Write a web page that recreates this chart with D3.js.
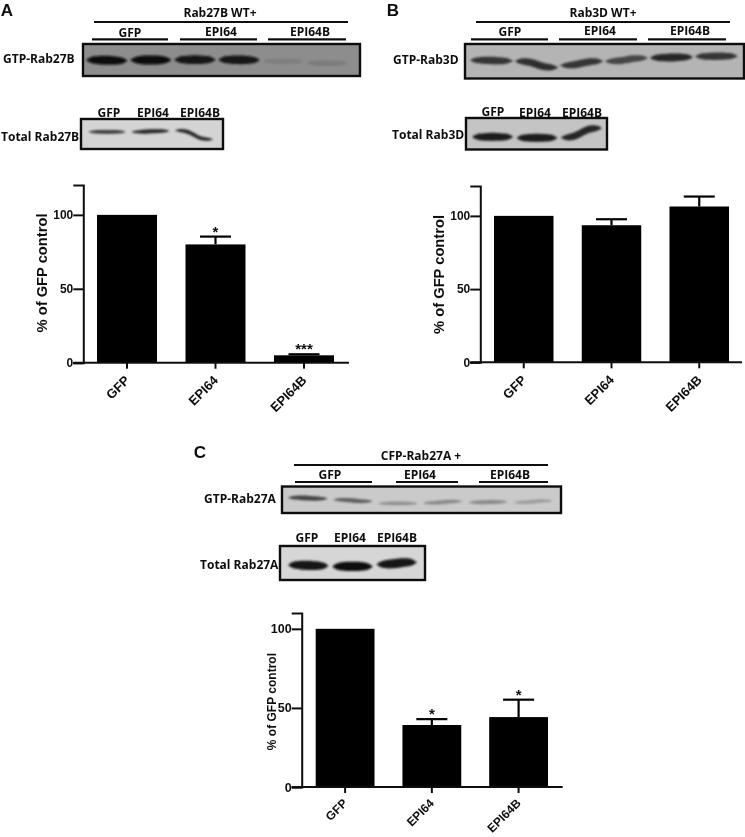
<!DOCTYPE html>
<html>
<head>
<meta charset="utf-8">
<script src="https://cdn.jsdelivr.net/npm/d3@7"></script>
<style>
  html, body { margin: 0; padding: 0; background: #fff; }
  svg { display: block; }
  .lbl { font-family: "Open Sans", sans-serif; font-weight: 700; fill: #111; }
  .letter { font-family: "Liberation Sans", Arial, sans-serif; font-weight: 700; fill: #111; }
  .plot text { font-family: "Liberation Sans", Arial, sans-serif; font-weight: 700; fill: #111; }
</style>
</head>
<body>
<svg></svg>
<script>
// Set up the size of SVG element
var width = 745,
    height = 837

var svg = d3.select("svg")
    .attr("width", width)
    .attr("height", height)

// ---- data ----
var categories = ["GFP", "EPI64", "EPI64B"]

// bar heights (% of GFP control) and top of the error bars
var valuesA = [100, 80, 5]
var errorsA = [100, 85.3, 5.7]
var starsA = ["", "*", "***"]
var valuesB = [100, 93.6, 106.4]
var errorsB = [100, 97.7, 113.2]
var starsB = ["", "", ""]
var valuesC = [100, 39.2, 44.2]
var errorsC = [100, 42.9, 55.2]
var starsC = ["", "*", "*"]
var yTicks = [0, 50, 100]

// blot bands: darkness 0-1, and how far the band ran at its left/right end (0-100 of blot height)
var gtpAdark = [1, 1, .95, .95, .12, .14]
var gtpAleft = [50, 50, 49, 49, 54, 60]
var gtpAright = [52, 50, 49, 50, 54, 60]
var totalAdark = [.75, .85, .85]
var totalAleft = [43, 43, 38]
var totalAright = [43, 40, 68]
var gtpBdark = [.75, .8, .75, .65, .85, .75]
var gtpBleft = [47, 50, 62, 50, 40, 36]
var gtpBright = [49, 68, 50, 41, 38, 35]
var totalBdark = [.9, .9, .85]
var totalBleft = [60, 63, 62]
var totalBright = [60, 63, 32]
var gtpCdark = [.7, .55, .3, .35, .35, .25]
var gtpCleft = [42, 50, 64, 62, 60, 60]
var gtpCright = [46, 56, 64, 56, 58, 54]
var totalCdark = [.95, 1, .95]
var totalCleft = [56, 60, 54]
var totalCright = [58, 60, 48]

var defs = svg.append("defs")
// user space region, a flat band has a small bounding box
defs.append("filter").attr("id", "bandBlur")
    .attr("filterUnits", "userSpaceOnUse")
    .attr("x", 0).attr("y", 0).attr("width", width).attr("height", height)
    .append("feGaussianBlur").attr("stdDeviation", 1)
defs.append("filter").attr("id", "soft")
    .attr("filterUnits", "userSpaceOnUse")
    .attr("x", 0).attr("y", 0).attr("width", width).attr("height", height)
    .append("feGaussianBlur").attr("stdDeviation", 0.35)

var page = svg.append("g")

function label(x, y, txt, size, anchor) {
    page.append("text")
        .attr("class", "lbl")
        .attr("x", x)
        .attr("y", y)
        .attr("dy", ".35em")
        .attr("text-anchor", anchor || "middle")
        .style("font-size", size + "px")
        .text(txt)
}

function letter(x, y, txt) {
    page.append("text")
        .attr("class", "letter")
        .attr("x", x)
        .attr("y", y)
        .attr("text-anchor", "middle")
        .style("font-size", "17px")
        .text(txt)
}

function rule(x1, x2, y) {
    page.append("line")
        .attr("x1", x1).attr("x2", x2).attr("y1", y).attr("y2", y)
        .attr("stroke", "#111").attr("stroke-width", 2.2)
}

// A western blot strip: grey box, then one blurred lens shaped band per lane
function blot(o) {
    var g = page.append("g")
    g.append("rect")
        .attr("x", o.x0).attr("y", o.y0)
        .attr("width", o.x1 - o.x0).attr("height", o.y1 - o.y0)
        .attr("fill", o.bg)

    var lane = d3.scaleBand()
        .domain(d3.range(o.dark.length))
        .range(o.lanes)
        .paddingInner(o.gap)
    var run = d3.scaleLinear().domain([0, 100]).range([o.y0, o.y1])
    var shade = d3.scaleLinear().domain([0, 1]).range([o.bg, "#0c0c0c"])
    var steps = d3.range(0, 1.01, .1)

    g.selectAll("path")
        .data(o.dark)
        .enter()
        .append("path")
        .attr("d", function(d, i) {
            var a = lane(i), w = lane.bandwidth()
            var l = run(o.left[i]), r = run(o.right[i])
            var half = o.band * (.55 + .45 * d) / 2
            var area = d3.area()
                .x(function(t) { return a + w * t })
                .y0(function(t) { return l + (r - l) * d3.easeCubicInOut(t) - half * Math.pow(Math.sin(Math.PI * t), .35) })
                .y1(function(t) { return l + (r - l) * d3.easeCubicInOut(t) + half * Math.pow(Math.sin(Math.PI * t), .35) })
                .curve(d3.curveBasis)
            return area(steps)
        })
        .attr("fill", function(d) { return shade(d) })
        .attr("filter", "url(#bandBlur)")

    g.append("rect")
        .attr("x", o.x0).attr("y", o.y0)
        .attr("width", o.x1 - o.x0).attr("height", o.y1 - o.y0)
        .attr("fill", "none")
        .attr("stroke", "#0a0a0a")
        .attr("stroke-width", 2.4)
}

// Bar chart with error bars, drawn the same way for all three panels
function bars(o) {
    var g = page.append("g").attr("class", "plot")

    var y = d3.scaleLinear().domain([0, o.top]).range([o.base, o.yTop])
    var x = d3.scaleBand().domain(categories).range(o.range).paddingInner(.322)
    var mid = function(d) { return x(d) + x.bandwidth() / 2 }

    g.selectAll(".bar")
        .data(categories)
        .enter()
        .append("rect")
        .attr("class", "bar")
        .attr("x", function(d) { return x(d) })
        .attr("width", x.bandwidth())
        .attr("y", function(d, i) { return y(o.values[i]) })
        .attr("height", function(d, i) { return y(0) - y(o.values[i]) })
        .attr("fill", "#000")

    // Error bars, GFP is the control and has none
    var withErr = categories.filter(function(d, i) { return o.errors[i] > o.values[i] })
    var errOf = function(d) { return o.errors[categories.indexOf(d)] }
    var valOf = function(d) { return o.values[categories.indexOf(d)] }
    g.selectAll(".stem")
        .data(withErr)
        .enter()
        .append("line")
        .attr("x1", mid).attr("x2", mid)
        .attr("y1", function(d) { return y(valOf(d)) })
        .attr("y2", function(d) { return y(errOf(d)) })
        .attr("stroke", "#000").attr("stroke-width", 2.2)
    g.selectAll(".cap")
        .data(withErr)
        .enter()
        .append("line")
        .attr("x1", function(d) { return mid(d) - 15.5 })
        .attr("x2", function(d) { return mid(d) + 15.5 })
        .attr("y1", function(d) { return y(errOf(d)) })
        .attr("y2", function(d) { return y(errOf(d)) })
        .attr("stroke", "#000").attr("stroke-width", 2.2)

    g.selectAll(".star")
        .data(categories)
        .enter()
        .append("text")
        .attr("x", mid)
        .attr("y", function(d) { return y(errOf(d)) })
        .attr("text-anchor", "middle")
        .style("font-size", "15px")
        .text(function(d, i) { return o.stars[i] })

    // Axes
    var yAxis = d3.axisLeft(y).tickValues(yTicks).tickSize(10).tickPadding(0)
    var ya = g.append("g").attr("transform", "translate(" + o.axisX + ",0)").call(yAxis)
    ya.selectAll("text").style("font-size", o.tickFont + "px")
    ya.selectAll("line, path").attr("stroke", "#111").attr("stroke-width", 2)

    var xAxis = d3.axisBottom(x).tickSize(6)
    var xa = g.append("g").attr("transform", "translate(0," + o.base + ")").call(xAxis)
    xa.select(".domain").remove()
    xa.selectAll("line").attr("stroke", "#111").attr("stroke-width", 2)
    xa.selectAll("text")
        .attr("text-anchor", "end")
        .attr("y", 0)
        .attr("dy", ".7em")
        .attr("transform", "translate(-3," + o.catDrop + ") rotate(-45)")
        .style("font-size", o.catFont + "px")

    g.append("line")
        .attr("x1", o.axisX - 10).attr("x2", o.axisEnd)
        .attr("y1", o.base).attr("y2", o.base)
        .attr("stroke", "#111").attr("stroke-width", 2)

    g.append("text")
        .attr("transform", "translate(" + o.titleX + "," + y(o.titleAt) + ") rotate(-90)")
        .attr("text-anchor", "middle")
        .style("font-size", o.titleFont + "px")
        .text("% of GFP control")
}

var small = 12

// ---- Panel A ----
letter(7, 15.6, "A")
label(220, 13, "Rab27B WT+", small)
rule(94, 348, 22)
rule(92, 168, 39.3); rule(180, 257, 39.3); rule(268, 346, 39.3)
label(130, 33, categories[0], small); label(221, 32, categories[1], small); label(310, 32, categories[2], small)
label(3, 59, "GTP-Rab27B", small, "start")
blot({x0: 83, x1: 360, y0: 44, y1: 76, bg: "#8d8d8d", lanes: [86, 348], gap: .06, band: 9,
      dark: gtpAdark, left: gtpAleft, right: gtpAright})
label(109, 113, categories[0], small); label(153, 113, categories[1], small); label(200, 113, categories[2], small)
label(1, 137, "Total Rab27B", small, "start")
blot({x0: 81, x1: 223, y0: 119, y1: 149, bg: "#d4d4d4", lanes: [88, 213], gap: .12, band: 4.5,
      dark: totalAdark, left: totalAleft, right: totalAright})
bars({values: valuesA, errors: errorsA, stars: starsA, range: [97, 334], base: 362.7, yTop: 185, top: 120.2,
      axisX: 83.3, axisEnd: 349, titleX: 47, titleAt: 60.7, tickFont: 12, catFont: 13, catDrop: 12, titleFont: 14.7})

// ---- Panel B ----
letter(393, 15.6, "B")
label(603, 13, "Rab3D WT+", small)
rule(476, 730, 22)
rule(471, 548, 39.3); rule(559, 637, 39.3); rule(648, 726, 39.3)
label(510, 32, categories[0], small); label(600, 31, categories[1], small); label(690, 31, categories[2], small)
label(393, 60, "GTP-Rab3D", small, "start")
blot({x0: 465, x1: 744, y0: 44, y1: 78.5, bg: "#b4b4b4", lanes: [470, 738], gap: .04, band: 8.5,
      dark: gtpBdark, left: gtpBleft, right: gtpBright})
label(493, 112, categories[0], small); label(535, 113, categories[1], small); label(582, 113, categories[2], small)
label(392, 135, "Total Rab3D", small, "start")
blot({x0: 466, x1: 607, y0: 118, y1: 149.5, bg: "#c4c4c4", lanes: [472, 602], gap: .07, band: 8.5,
      dark: totalBdark, left: totalBleft, right: totalBright})
bars({values: valuesB, errors: errorsB, stars: starsB, range: [494, 729], base: 362.3, yTop: 186, top: 120.4,
      axisX: 480.3, axisEnd: 742, titleX: 444, titleAt: 60, tickFont: 12, catFont: 13, catDrop: 12, titleFont: 14.7})

// ---- Panel C ----
letter(200, 458, "C")
label(421, 456, "CFP-Rab27A +", small)
rule(294, 548, 465)
rule(295, 372, 482); rule(396, 458, 482); rule(479, 548, 482)
label(330, 475, categories[0], small); label(420, 475, categories[1], small); label(510, 475, categories[2], small)
label(204, 499, "GTP-Rab27A", small, "start")
blot({x0: 282, x1: 561, y0: 486.5, y1: 513, bg: "#cacaca", lanes: [288, 553], gap: .12, band: 5.5,
      dark: gtpCdark, left: gtpCleft, right: gtpCright})
label(307, 538, categories[0], small); label(350, 538, categories[1], small); label(397, 538, categories[2], small)
label(200, 565, "Total Rab27A", small, "start")
blot({x0: 280, x1: 425, y0: 546, y1: 580, bg: "#d6d6d6", lanes: [288, 417], gap: .08, band: 9.5,
      dark: totalCdark, left: totalCleft, right: totalCright})
bars({values: valuesC, errors: errorsC, stars: starsC, range: [315.7, 548], base: 787, yTop: 613, top: 110,
      axisX: 301.7, axisEnd: 562.7, titleX: 276, titleAt: 54, tickFont: 12.5, catFont: 12, catDrop: 11, titleFont: 12})

page.attr("filter", "url(#soft)")
</script>
</body>
</html>
